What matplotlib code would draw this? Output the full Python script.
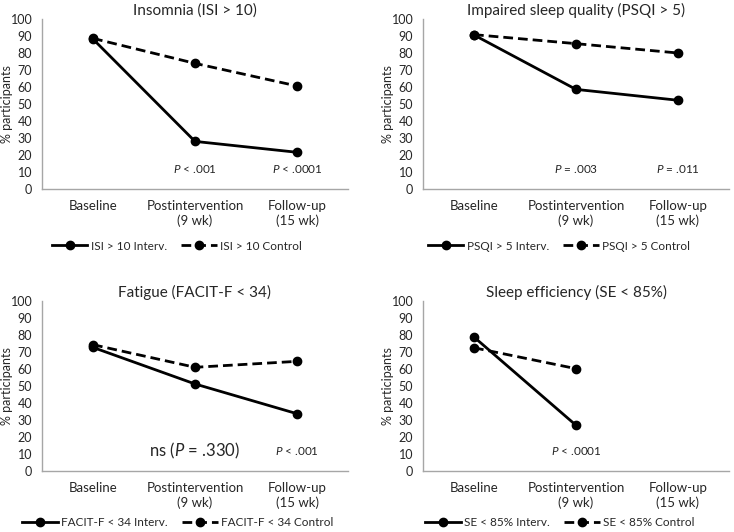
import matplotlib.pyplot as plt

plt.rcParams['font.family'] = ['Lato', 'DejaVu Sans']
plt.rcParams['mathtext.fontset'] = 'custom'
plt.rcParams['mathtext.rm'] = 'Lato'
plt.rcParams['mathtext.it'] = 'Lato:italic'

# Data
categories = ['Baseline', 'Postintervention\n(9 wk)', 'Follow-up\n(15 wk)']

isi_interv = [88.2, 28.0, 21.6]
isi_control = [88.6, 73.9, 60.6]
psqi_interv = [90.6, 58.6, 52.2]
psqi_control = [90.8, 85.5, 80.0]
facit_interv = [72.7, 51.2, 33.7]
facit_control = [74.3, 61.0, 64.5]
se_interv = [78.8, 26.9]
se_control = [72.5, 60.2]

titles = ['Insomnia (ISI > 10)', 'Impaired sleep quality (PSQI > 5)',
          'Fatigue (FACIT-F < 34)', 'Sleep efficiency (SE < 85%)']
prefixes = ['ISI > 10', 'PSQI > 5', 'FACIT-F < 34', 'SE < 85%']
pvalues = [
    [(1, '$P$ < .001', 8.5), (2, '$P$ < .0001', 8.5)],
    [(1, '$P$ = .003', 8.5), (2, '$P$ = .011', 8.5)],
    [(1, 'ns ($P$ = .330)', 12), (2, '$P$ < .001', 8.5)],
    [(1, '$P$ < .0001', 8.5)],
]
series = [(isi_interv, isi_control), (psqi_interv, psqi_control),
          (facit_interv, facit_control), (se_interv, se_control)]

W, H = 734, 532
fig = plt.figure(figsize=(W / 100, H / 100), dpi=100)

# panel boxes in pixels: left, right, top, bottom
boxes = [(42, 348, 19, 189), (423, 729, 19, 189),
         (42, 348, 301, 471), (423, 729, 301, 471)]
legend_y = [246, 246, 523, 523]
legend_x = [177, 559, 178, 560]

text_col = '#262626'
axis_col = '#a6a6a6'

for i in range(4):
    l, r, t, b = boxes[i]
    ax = fig.add_axes([l / W, 1 - b / H, (r - l) / W, (b - t) / H])
    interv, control = series[i]
    ax.plot(range(len(interv)), interv, color='black', lw=2, marker='o', ms=6,
            label=f'{prefixes[i]} Interv.')
    ax.plot(range(len(control)), control, color='black', lw=2, marker='o', ms=6,
            dashes=(3.5, 1.8), label=f'{prefixes[i]} Control')

    for x, txt, fs in pvalues[i]:
        ax.text(x, 11.8, txt, ha='center', va='center', fontsize=fs, color=text_col)

    ax.set_xlim(-0.5, 2.5)
    ax.set_ylim(0, 100)
    ax.set_yticks(range(0, 101, 10))
    ax.set_xticks(range(3))
    ax.set_xticklabels(categories, fontsize=9.5, color=text_col, linespacing=1.25)
    ax.tick_params(axis='y', length=0, labelsize=9, colors=text_col, pad=7)
    ax.tick_params(axis='x', length=0, colors=text_col, pad=8)
    for s in ['top', 'right']:
        ax.spines[s].set_visible(False)
    for s in ['left', 'bottom']:
        ax.spines[s].set_color(axis_col)
        ax.spines[s].set_linewidth(1)
    ax.set_title(titles[i], fontsize=11, color=text_col, pad=3)
    ax.set_ylabel('% participants', fontsize=9, color=text_col, va='center')
    ax.yaxis.set_label_coords(-0.116, 0.5)

    fig.legend(handles=ax.get_lines(), loc='center',
               bbox_to_anchor=(legend_x[i] / W, 1 - legend_y[i] / H),
               ncol=2, frameon=False, fontsize=8.5, handlelength=3.0,
               handletextpad=0.3, columnspacing=1.2, labelcolor=text_col)

fig.savefig('out.png', dpi=100)
